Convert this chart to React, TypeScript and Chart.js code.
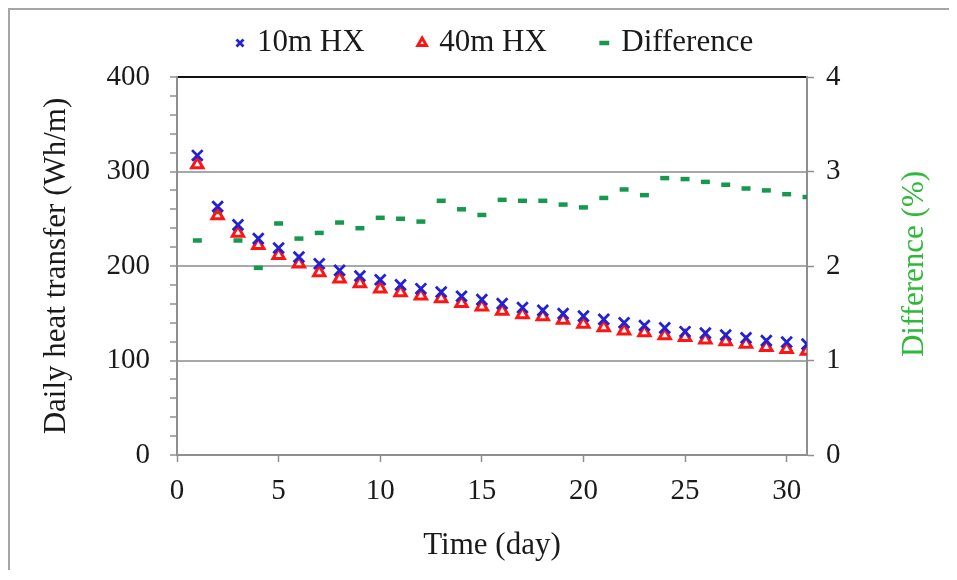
import React, { useEffect, useRef } from 'react';
import { Chart, registerables } from 'chart.js';

Chart.register(...registerables);

// ---- data ----
const days = [1, 2, 3, 4, 5, 6, 7, 8, 9, 10, 11, 12, 13, 14, 15, 16, 17, 18, 19, 20, 21, 22, 23, 24, 25, 26, 27, 28, 29, 30, 31];

const heat10m = [317, 263, 243.5, 229, 219, 209.5, 202.4, 195.4, 189.4, 185.5, 180, 176, 172.5, 168, 164.4, 160.2, 156, 153, 149.6, 147, 143.5, 140, 137, 134.5, 130.5, 129, 127, 124, 121, 119.5, 117.3];

const heat40m = [307.5, 253.5, 235, 222, 211.5, 202.5, 193, 186.5, 181.5, 176, 172, 168.5, 165.5, 160.5, 157, 152.3, 148.8, 146.5, 142.8, 138.5, 135, 131.5, 129.5, 126.5, 124.5, 122, 120, 117.5, 114, 112, 110];

const differencePct = [2.27, 2.57, 2.27, 1.98, 2.45, 2.29, 2.35, 2.46, 2.4, 2.51, 2.5, 2.47, 2.69, 2.6, 2.54, 2.7, 2.69, 2.69, 2.65, 2.62, 2.72, 2.81, 2.75, 2.93, 2.92, 2.89, 2.86, 2.82, 2.8, 2.76, 2.73];

const seriesLabels = ['10m HX', '40m HX', 'Difference'];
const xTitle = 'Time (day)';
const yTitle = 'Daily heat transfer (Wh/m)';
const y1Title = 'Difference (%)';

// ---- styles ----
const FONT = '"Liberation Serif", "Times New Roman", serif';
const BLUE = '#2121d6';
const RED = '#ff1414';
const GREEN = '#16994f';
const TITLE_GREEN = '#2fb83a';
const TEXT = '#1a1a1a';
const AXIS = '#8f8f8f';
const GRID = '#a8a8a8';

const legendTweak = {
  id: 'legendTweak',
  beforeLayout(chart: any) {
    const lg: any = chart.legend;
    if (lg && !lg._patchedFit) {
      const orig = lg.fit;
      lg.fit = function () {
        orig.call(this);
        this.height = 67;
      };
      lg._patchedFit = true;
    }
  },
  afterLayout(chart: any) {
    const lg: any = chart.legend;
    if (!lg || !lg.lineWidths) return;
    const pad = lg.options.labels.padding;
    const boxW = lg.options.labels.boxWidth;
    const cursorX = (lg.left + pad + lg.right - lg.lineWidths[0]) / 2;
    const shift = 230 - boxW / 2 - cursorX;
    lg.left += shift;
    lg.right += shift;
    lg.top = 33 - pad - 15.5;
  },
};

const rightTitle = {
  id: 'rightTitle',
  afterDraw(chart: any) {
    const { ctx, chartArea } = chart;
    ctx.save();
    ctx.translate(chartArea.right + 108, (chartArea.top + chartArea.bottom) / 2 - 2);
    ctx.rotate(-Math.PI / 2);
    ctx.font = `31px ${FONT}`;
    ctx.fillStyle = TITLE_GREEN;
    ctx.textAlign = 'center';
    ctx.textBaseline = 'middle';
    ctx.fillText(y1Title, 0, 0);
    ctx.restore();
  },
};

export default function App() {
  const ref = useRef<HTMLCanvasElement | null>(null);

  useEffect(() => {
    if (!ref.current) return;
    const pts = (vals: number[]) => days.map((d, i) => ({ x: d, y: vals[i] }));
    const chart = new Chart(ref.current, {
      type: 'line',
      data: {
        datasets: [
          {
            label: seriesLabels[0],
            data: pts(heat10m),
            yAxisID: 'y',
            showLine: false,
            pointStyle: 'crossRot',
            pointRadius: 7.5,
            pointBorderWidth: 2.8,
            pointBorderColor: BLUE,
            pointBackgroundColor: BLUE,
            borderColor: BLUE,
            backgroundColor: BLUE,
          },
          {
            label: seriesLabels[1],
            data: pts(heat40m),
            yAxisID: 'y',
            showLine: false,
            pointStyle: 'triangle',
            pointRadius: 6.5,
            pointBorderWidth: 3,
            pointBorderColor: RED,
            pointBackgroundColor: 'rgba(255,255,255,0)',
            borderColor: RED,
            backgroundColor: 'rgba(255,255,255,0)',
          },
          {
            label: seriesLabels[2],
            data: pts(differencePct),
            yAxisID: 'y1',
            showLine: false,
            pointStyle: 'line',
            pointRadius: 4.5,
            pointBorderWidth: 4.5,
            pointBorderColor: GREEN,
            pointBackgroundColor: GREEN,
            borderColor: GREEN,
            backgroundColor: GREEN,
          },
        ],
      },
      options: {
        responsive: false,
        animation: false,
        devicePixelRatio: 1,
        layout: { padding: 0 },
        plugins: {
          tooltip: { enabled: false },
          legend: {
            display: true,
            position: 'top',
            labels: {
              usePointStyle: true,
              boxWidth: 3,
              boxHeight: 7,
              padding: 56,
              color: TEXT,
              font: { family: FONT, size: 31 },
            },
          },
        },
        scales: {
          x: {
            type: 'linear',
            min: 0,
            max: 31,
            afterFit: (s: any) => {
              s.height = 115;
            },
            ticks: {
              stepSize: 5,
              includeBounds: false,
              maxRotation: 0,
              padding: 12,
              color: TEXT,
              font: { family: FONT, size: 29 },
            },
            grid: {
              drawOnChartArea: false,
              drawTicks: true,
              tickLength: 7,
              tickColor: AXIS,
              tickWidth: 1.5,
            },
            border: { color: AXIS, width: 2 },
            title: {
              display: true,
              text: xTitle,
              color: TEXT,
              font: { family: FONT, size: 31 },
              padding: { top: 0, bottom: 6 },
            },
          },
          y: {
            position: 'left',
            min: 0,
            max: 400,
            afterFit: (s: any) => {
              s.width = 167;
            },
            ticks: {
              stepSize: 20,
              autoSkip: false,
              padding: 20,
              color: TEXT,
              font: { family: FONT, size: 29 },
              callback: (v: any) => (Number(v) % 100 === 0 ? String(v) : ''),
            },
            grid: {
              color: (c: any) => {
                const v = c.tick ? c.tick.value : 0;
                if (v === 400) return '#111111';
                if (v % 100 === 0) return GRID;
                return 'rgba(0,0,0,0)';
              },
              lineWidth: 2,
              tickColor: AXIS,
              tickWidth: 1.5,
              tickLength: 7,
            },
            border: { color: AXIS, width: 2 },
            title: {
              display: true,
              text: yTitle,
              color: TEXT,
              font: { family: FONT, size: 31 },
              padding: { top: 28, bottom: 0 },
            },
          },
          y1: {
            position: 'right',
            min: 0,
            max: 4,
            afterFit: (s: any) => {
              s.width = 142;
            },
            ticks: {
              stepSize: 1,
              padding: 12,
              color: TEXT,
              font: { family: FONT, size: 29 },
            },
            grid: {
              drawOnChartArea: false,
              tickColor: AXIS,
              tickWidth: 1.5,
              tickLength: 7,
            },
            border: { color: AXIS, width: 2 },
          },
        },
      },
      plugins: [legendTweak, rightTitle],
    } as any);
    return () => chart.destroy();
  }, []);

  return (
    <div style={{ borderTop: '2px solid #a6a6a6', borderLeft: '2px solid #a6a6a6', background: '#fff' }}>
      <canvas ref={ref} width={939} height={560} style={{ display: 'block' }} />
    </div>
  );
}
